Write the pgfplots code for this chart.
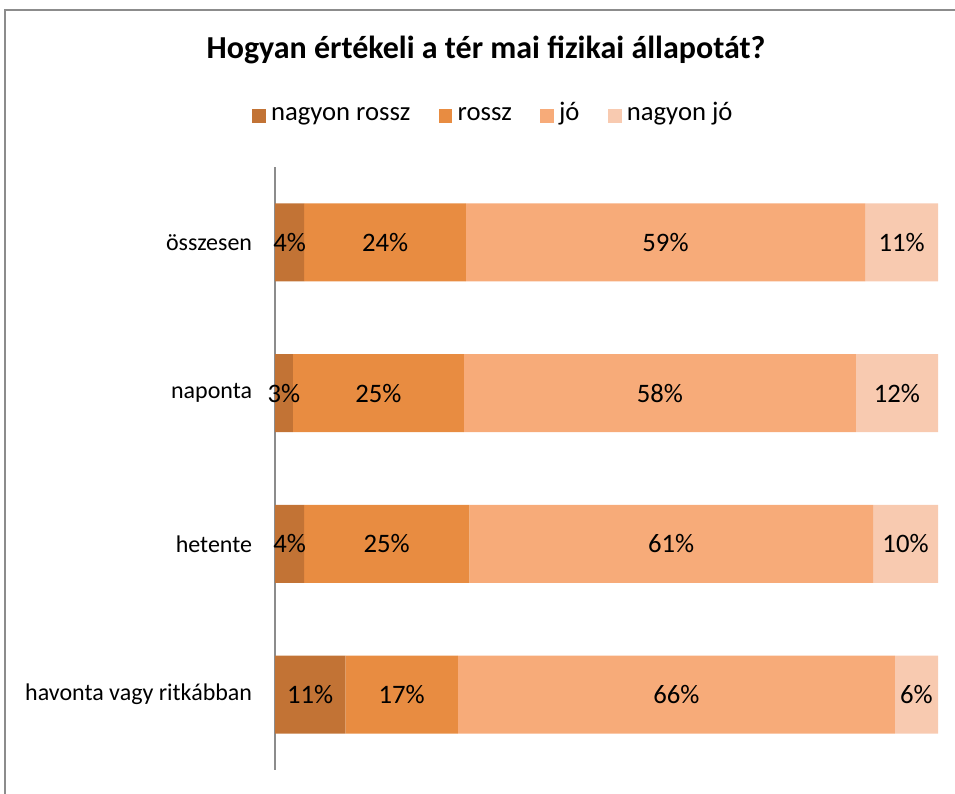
\documentclass[border=0pt]{standalone}
\usepackage{fontspec}
\setmainfont{Carlito}
\usepackage{pgfplots}
\usepackage{pgfplotstable}
\pgfplotsset{compat=1.18}
\definecolor{c1}{HTML}{C27335}
\definecolor{c2}{HTML}{E88C41}
\definecolor{c3}{HTML}{F7AB79}
\definecolor{c4}{HTML}{F8CAB0}
\definecolor{frame}{HTML}{8C8C8C}
\definecolor{axc}{HTML}{8C8C8C}
\pgfplotstableread{
cat a b c d la lb lc ld
0 4.4 24.4 60.2 11.0 4 24 59 11
1 2.7 25.8 59.1 12.4 3 25 58 12
2 4.4 24.9 60.9 9.8 4 25 61 10
3 10.6 17.0 65.9 6.5 11 17 66 6
}\data
\begin{document}
\begin{tikzpicture}
\useasboundingbox (0,0) rectangle (716.25pt,-594.75pt);
\draw[frame, line width=1.2pt] (3.75pt,-600pt) -- (3.75pt,-7.5pt) -- (720pt,-7.5pt);
\node[font=\fontsize{24}{28}\selectfont\bfseries] at (364.5pt,-37.5pt) {Hogyan értékeli a tér mai fizikai állapotát?};
\begin{axis}[
  at={(206.25pt,-577.5pt)}, anchor=south west,
  scale only axis, width=497.25pt, height=452.25pt,
  xbar stacked, bar width=58.5pt,
  xmin=0, xmax=100, ymin=-0.5, ymax=3.5,
  y dir=reverse,
  axis x line=none, axis y line*=left,
  axis line style={axc, line width=1.2pt},
  ytick={0,1,2,3},
  yticklabels={összesen,naponta,hetente,havonta vagy ritkábban},
  ytick style={draw=none},
  yticklabel style={inner sep=0pt, xshift=-17pt, font=\fontsize{18}{21}\selectfont},
  legend columns=4,
  legend style={draw=none, at={(0.330,1.094)}, anchor=center, font=\fontsize{20}{24}\selectfont,
    /tikz/every odd column/.append style={column sep=2pt},
    /tikz/every even column/.append style={column sep=19.5pt}},
  legend cell align=left,
  legend image code/.code={\fill[#1] (0pt,-9.25pt) rectangle (10pt,0.75pt);},
]
\addplot[fill=c1, draw=none] table[x=a, y=cat] {\data};
\addplot[fill=c2, draw=none] table[x=b, y=cat] {\data};
\addplot[fill=c3, draw=none] table[x=c, y=cat] {\data};
\addplot[fill=c4, draw=none] table[x=d, y=cat] {\data};
\legend{\strut nagyon rossz, \strut rossz, \strut jó, \strut nagyon jó}
\end{axis}
\begin{axis}[
  at={(206.25pt,-577.5pt)}, anchor=south west,
  scale only axis, width=497.25pt, height=452.25pt,
  xmin=0, xmax=100, ymin=-0.5, ymax=3.5,
  y dir=reverse, hide axis, clip=false,
  nodes near coords={\pgfplotspointmeta\%},
  point meta=explicit symbolic,
  every node near coord/.style={anchor=center, font=\fontsize{20}{24}\selectfont, text=black},
]
\addplot[draw=none, mark=none] table[x expr=\thisrow{a}/2, y=cat, meta=la] {\data};
\addplot[draw=none, mark=none] table[x expr=\thisrow{a}+\thisrow{b}/2, y=cat, meta=lb] {\data};
\addplot[draw=none, mark=none] table[x expr=\thisrow{a}+\thisrow{b}+\thisrow{c}/2, y=cat, meta=lc] {\data};
\addplot[draw=none, mark=none] table[x expr=\thisrow{a}+\thisrow{b}+\thisrow{c}+\thisrow{d}/2, y=cat, meta=ld] {\data};
\end{axis}
\end{tikzpicture}
\end{document}
